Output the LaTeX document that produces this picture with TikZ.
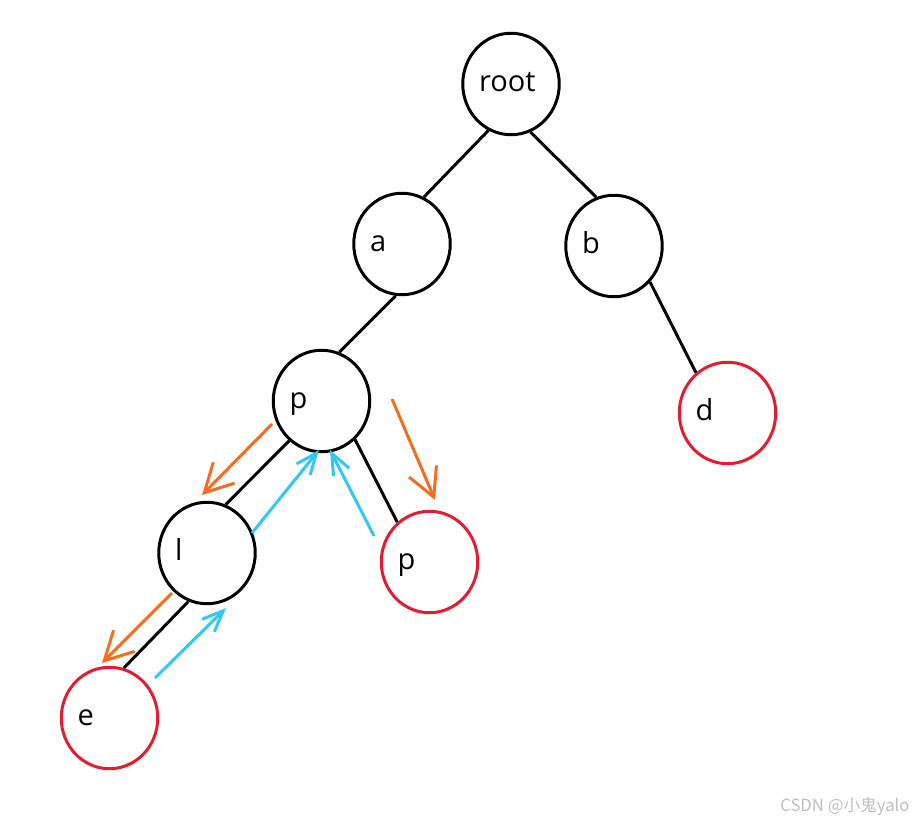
\documentclass[tikz,border=0pt]{standalone}
\usepackage{fontspec}
\setmainfont{Open Sans}
\newfontfamily\cjkfont{Noto Sans CJK SC}
\usetikzlibrary{arrows.meta,shapes.geometric}
\definecolor{leafred}{RGB}{228,28,48}
\definecolor{godown}{RGB}{245,110,30}
\definecolor{goback}{RGB}{50,200,245}
\tikzset{
  trie/.style={ellipse,draw,line width=1.7pt,minimum width=1.93cm,minimum height=2.03cm,inner sep=0pt,
    text width=1.28cm,align=left,text height=12pt,text depth=3pt,
    font=\fontsize{16.5}{19}\selectfont},
  leaf/.style={trie,draw=leafred},
  down/.style={godown,-{Straight Barb[length=16pt,width=17pt]}},
  back/.style={goback,-{Straight Barb[length=12pt,width=10pt]}}
}

\begin{document}
\begin{tikzpicture}[x=0.02cm,y=-0.02cm,line width=1.7pt]
  \useasboundingbox (0,0) rectangle (915,820);
  \node[trie] (root) at (511,84) {root};
  \node[trie] (a) at (402,244) {a};
  \node[trie] (b) at (614,246) {b};
  \node[trie] (p) at (321.5,401) {p};
  \node[leaf] (d) at (727.5,413) {d};
  \node[trie] (l) at (207,553) {l};
  \node[leaf] (pp) at (429.5,562) {p};
  \node[leaf] (e) at (109.5,718) {e};
  \draw (root.244) -- (a.65);
  \draw (root.292) -- (b.110);
  \draw (a.263) -- (p.70);
  \draw (b.315) -- (d.128);
  \draw (p.231) -- (l.69);
  \draw (p.311) -- (pp.129);
  \draw (l.249) -- (e.74);
  \coordinate (pl1) at (272,424);  \coordinate (pl2) at (202,495);
  \coordinate (pp1) at (392,399);  \coordinate (pp2) at (435,500);
  \coordinate (le1) at (172,593);  \coordinate (le2) at (102,663);
  \coordinate (lp1) at (252,533);  \coordinate (lp2) at (319,450);
  \coordinate (qp1) at (374,536);  \coordinate (qp2) at (330,450);
  \coordinate (el1) at (155,678);  \coordinate (el2) at (226,608);
  \draw[down] (pl1) -- (pl2);
  \draw[down] (pp1) -- (pp2);
  \draw[down] (le1) -- (le2);
  \draw[back] (lp1) -- (lp2);
  \draw[back] (qp1) -- (qp2);
  \draw[back] (el1) -- (el2);
  \node[anchor=east,text=gray!50,inner sep=0pt,font=\cjkfont\fontsize{9.5}{11}\selectfont] (mark) at (911,806) {CSDN @小鬼yalo};
\end{tikzpicture}
\end{document}
